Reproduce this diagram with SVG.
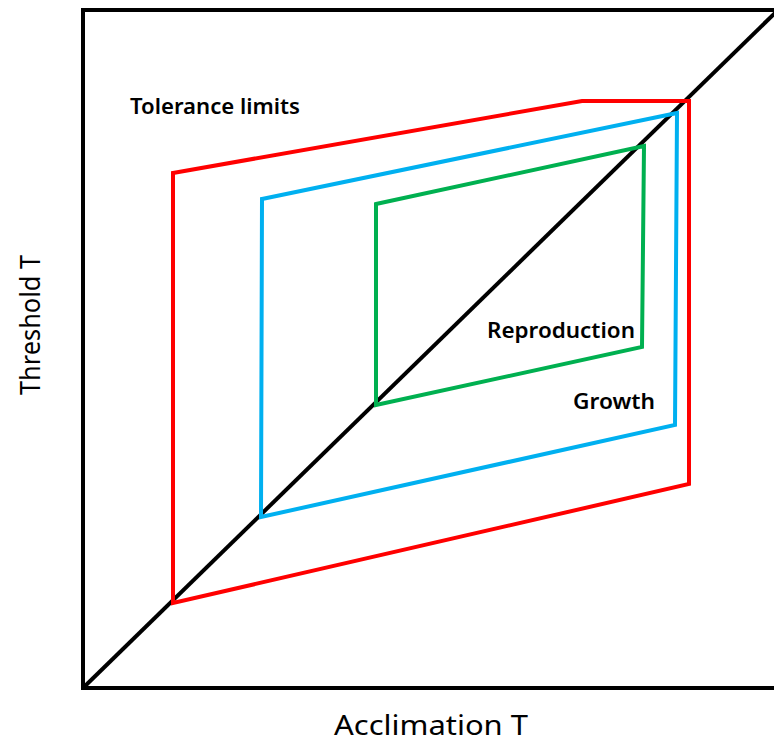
<svg xmlns="http://www.w3.org/2000/svg" width="774" height="746" viewBox="0 0 774 746">
<style>
.ln{fill:none;stroke-width:4;stroke-linejoin:miter}
.t{font-family:"Noto Sans","Open Sans",sans-serif;fill:#000}
.s{font-size:21px;font-weight:600}
.a{font-size:28px}
</style>
<rect x="0" y="0" width="774" height="746" fill="#fff"/>
<g id="axes">
<path class="ln" stroke="#000" d="M83,10 H790 M83,8 V690 M81,688 H790"/>
</g>
<g id="connectors">
<line class="ln" stroke="#000" x1="83" y1="688" x2="776" y2="12"/>
</g>
<g id="tolerance">
<polygon class="ln" stroke="#FF0000" points="173,173 582,101 689,101 689,484 173,603"/>
</g>
<g id="growth">
<polygon class="ln" stroke="#00B0F0" points="262,199 677,113 675,425 261,517"/>
</g>
<g id="reproduction">
<polygon class="ln" stroke="#00B050" points="376,204 644,146 642,347 376,405"/>
</g>
<g id="labels">
<text class="t s" x="130" y="114" textLength="170" lengthAdjust="spacingAndGlyphs">Tolerance limits</text>
<text class="t s" x="487" y="338" textLength="148" lengthAdjust="spacingAndGlyphs">Reproduction</text>
<text class="t s" x="573" y="409" textLength="82" lengthAdjust="spacingAndGlyphs">Growth</text>
<text class="t a" x="334" y="735" textLength="194" lengthAdjust="spacingAndGlyphs">Acclimation T</text>
<text class="t a" x="0" y="0" transform="translate(40,255) rotate(-90)" text-anchor="end" textLength="140" lengthAdjust="spacingAndGlyphs">Threshold T</text>
</g>
</svg>
